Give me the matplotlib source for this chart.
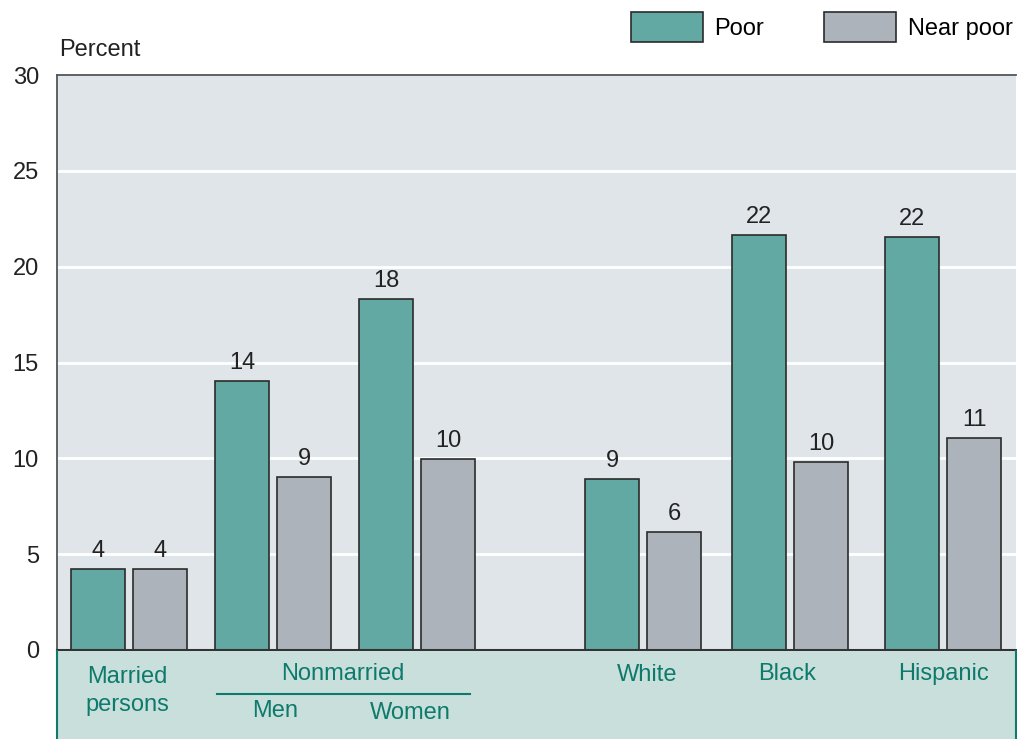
import matplotlib.pyplot as plt
from matplotlib.lines import Line2D

plt.rcParams['font.family'] = ['Liberation Sans', 'DejaVu Sans']

# Data (percent)
groups = ['Married persons', 'Men', 'Women', 'White', 'Black', 'Hispanic']
poor = [4.23, 14.04, 18.3, 8.92, 21.65, 21.54]
near_poor = [4.23, 9.02, 9.96, 6.16, 9.8, 11.06]
yticks = [0, 5, 10, 15, 20, 25, 30]

teal = '#62a8a3'
grey = '#acb3bb'
text_teal = '#0e7a6c'
fs = 17

W, H = 1017, 739
fig = plt.figure(figsize=(W / 100, H / 100), dpi=100)
ax = fig.add_axes([57 / W, (H - 650) / H, 959 / W, 575 / H])
ax.set_facecolor('#e0e5e9')

# group centres in pixel-like units, so spacing follows the original layout
centers = [129, 273, 417, 643, 790, 943]
off = 31
bw = 54
xp = [c - off for c in centers]
xn = [c + off for c in centers]

b1 = ax.bar(xp, poor, bw, color=teal, edgecolor='#2b2b2b', linewidth=1.2, zorder=3, label='Poor')
b2 = ax.bar(xn, near_poor, bw, color=grey, edgecolor='#2b2b2b', linewidth=1.2, zorder=3, label='Near poor')

for bars, vals in [(b1, poor), (b2, near_poor)]:
    for r, v in zip(bars, vals):
        ax.annotate(f'{v:.0f}', (r.get_x() + r.get_width() / 2, v), xytext=(0, 5),
                    textcoords='offset points', ha='center', va='bottom', fontsize=fs, color='#222222')

ax.set_xlim(57, 1016)
ax.set_ylim(0, 30)
ax.set_yticks(yticks)
ax.set_xticks([])
ax.tick_params(axis='y', length=0, pad=13, labelsize=fs, labelcolor='#222222')
for y in yticks[1:-1]:
    ax.axhline(y, color='white', linewidth=2, zorder=1)

ax.spines['right'].set_visible(False)
for s in ['top', 'left']:
    ax.spines[s].set_color('#555555')
    ax.spines[s].set_linewidth(1.3)
ax.spines['bottom'].set_color('#333333')
ax.spines['bottom'].set_linewidth(2.2)
ax.spines['bottom'].set_zorder(4)

fig.text(59 / W, 1 - 50 / H, 'Percent', fontsize=fs, color='#222222', va='center', ha='left')

fig.legend(handles=[b1, b2], ncol=2, loc='center right', bbox_to_anchor=(1013 / W, 1 - 27 / H),
           frameon=False, fontsize=fs, handlelength=3.05, handleheight=1.6, handletextpad=0.5,
           columnspacing=2.55, borderaxespad=0, borderpad=0)

# bottom band with category labels
band = fig.add_axes([57 / W, 0, 959 / W, (H - 651) / H])
band.set_facecolor('#c8dfdc')
band.set_xlim(57, 1016)
band.set_ylim(739, 651)
band.set_xticks([])
band.set_yticks([])
for s in ['top', 'bottom']:
    band.spines[s].set_visible(False)
for s in ['left', 'right']:
    band.spines[s].set_color(text_teal)
    band.spines[s].set_linewidth(1.5)

lab = dict(fontsize=fs, color=text_teal, ha='center', va='center')
band.text(127, 677, 'Married', **lab)
band.text(127, 705, 'persons', **lab)
band.text(343, 674, 'Nonmarried', **lab)
band.add_line(Line2D([217, 470], [694, 694], color=text_teal, linewidth=1.5))
band.text(275, 711, 'Men', **lab)
band.text(410, 713, 'Women', **lab)
band.text(647, 675, 'White', **lab)
band.text(787, 674, 'Black', **lab)
band.text(944, 674, 'Hispanic', **lab)

fig.savefig('out.png', dpi=100)
